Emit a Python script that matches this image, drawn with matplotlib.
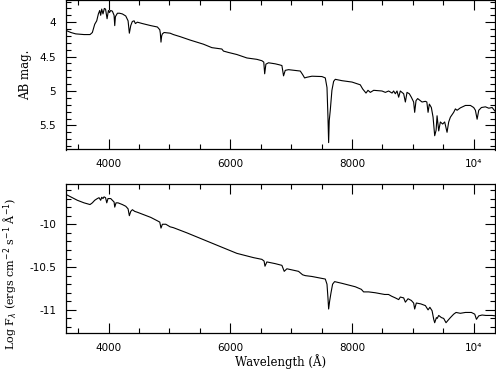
import numpy as np
import matplotlib
matplotlib.use("Agg")
import matplotlib.pyplot as plt
from matplotlib.ticker import MultipleLocator, FuncFormatter

# AB magnitude spectrum (top panel)
wave_ab = [3300, 3380, 3460, 3596, 3695, 3733, 3772, 3805, 3832, 3854,
           3870, 3887, 3908, 3930, 3950, 3975, 3997, 4015, 4035, 4062,
           4090, 4101, 4112, 4145, 4180, 4226, 4282, 4320, 4341, 4364,
           4390, 4419, 4440, 4473, 4555, 4693, 4802, 4841, 4850, 4861,
           4872, 4884, 4912, 5011, 5065, 5175, 5340, 5559, 5697, 5861,
           5888, 5970, 6108, 6273, 6437, 6519, 6550, 6565, 6585, 6628,
           6738, 6809, 6848, 6875, 6903, 6957, 7150, 7188, 7221, 7260,
           7342, 7506, 7561, 7589, 7605, 7616, 7626, 7643, 7670, 7698,
           7725, 7835, 8000, 8136, 8175, 8230, 8263, 8301, 8356, 8493,
           8548, 8602, 8658, 8684, 8712, 8740, 8767, 8794, 8849, 8877,
           8904, 8942, 8975, 9013, 9030, 9052, 9079, 9151, 9206, 9230,
           9250, 9271, 9304, 9332, 9359, 9382, 9398, 9425, 9452, 9490,
           9523, 9562, 9589, 9617, 9671, 9699, 9727, 9781, 9864, 9946,
           10000, 10028, 10056, 10083, 10127, 10193, 10248, 10303, 10357]
ab_mag = [4.12, 4.15, 4.17, 4.18, 4.18, 4.15, 4.03, 3.98, 3.88, 3.83,
          3.90, 3.81, 3.88, 3.80, 3.81, 3.95, 3.83, 3.86, 3.83, 3.84,
          3.90, 4.05, 3.92, 3.87, 3.87, 3.88, 3.91, 3.98, 4.16, 4.05,
          3.99, 3.98, 4.02, 4.00, 4.02, 4.05, 4.07, 4.11, 4.16, 4.29,
          4.20, 4.17, 4.15, 4.16, 4.18, 4.21, 4.26, 4.32, 4.37, 4.39,
          4.42, 4.44, 4.47, 4.52, 4.54, 4.56, 4.58, 4.75, 4.61, 4.59,
          4.605, 4.62, 4.63, 4.78, 4.70, 4.69, 4.71, 4.76, 4.81, 4.80,
          4.785, 4.79, 4.81, 4.95, 5.38, 5.75, 5.43, 5.28, 4.99, 4.86,
          4.83, 4.85, 4.87, 4.91, 4.97, 5.03, 4.99, 5.02, 4.99, 5.00,
          5.02, 5.00, 5.03, 5.00, 5.04, 5.00, 5.09, 5.00, 5.04, 5.16,
          5.02, 5.04, 5.09, 5.16, 5.31, 5.14, 5.11, 5.16, 5.15, 5.16,
          5.31, 5.19, 5.24, 5.38, 5.65, 5.57, 5.36, 5.58, 5.45, 5.48,
          5.45, 5.60, 5.45, 5.38, 5.31, 5.26, 5.28, 5.245, 5.21, 5.21,
          5.24, 5.28, 5.41, 5.28, 5.24, 5.23, 5.25, 5.24, 5.30]

# log F_lambda spectrum (bottom panel)
wave_fl = [3295, 3377, 3486, 3596, 3695, 3733, 3772, 3815, 3843, 3870,
           3887, 3908, 3925, 3950, 3970, 3990, 4035, 4062, 4090, 4101,
           4122, 4155, 4226, 4282, 4320, 4341, 4364, 4391, 4430, 4473,
           4583, 4693, 4802, 4841, 4861, 4884, 4940, 5011, 5065, 5285,
           5559, 5833, 6108, 6382, 6519, 6555, 6570, 6601, 6738, 6848,
           6886, 6930, 7121, 7188, 7232, 7342, 7561, 7589, 7605, 7616,
           7632, 7655, 7681, 7714, 7835, 8054, 8153, 8191, 8273, 8383,
           8536, 8600, 8650, 8712, 8767, 8794, 8849, 8877, 8921, 8975,
           9013, 9030, 9057, 9130, 9206, 9250, 9280, 9316, 9343, 9359,
           9387, 9400, 9425, 9469, 9507, 9545, 9580, 9617, 9671, 9710,
           9780, 9864, 9962, 10017, 10045, 10083, 10138, 10200, 10303, 10357]
log_fl = [-9.65, -9.68, -9.72, -9.75, -9.77, -9.75, -9.72, -9.70, -9.69, -9.72,
          -9.685, -9.70, -9.68, -9.69, -9.75, -9.70, -9.70, -9.72, -9.74, -9.80,
          -9.75, -9.75, -9.77, -9.79, -9.82, -9.90, -9.85, -9.83, -9.85, -9.86,
          -9.89, -9.92, -9.96, -9.975, -10.045, -10.00, -10.00, -10.03, -10.04, -10.10,
          -10.18, -10.26, -10.34, -10.39, -10.41, -10.43, -10.49, -10.44, -10.46, -10.48,
          -10.55, -10.52, -10.55, -10.59, -10.60, -10.61, -10.64, -10.70, -10.86, -10.99,
          -10.90, -10.80, -10.70, -10.67, -10.69, -10.73, -10.76, -10.79, -10.79, -10.80,
          -10.82, -10.82, -10.84, -10.86, -10.88, -10.85, -10.86, -10.91, -10.87, -10.89,
          -10.92, -10.99, -10.92, -10.93, -10.95, -11.00, -10.97, -11.01, -11.11, -11.15,
          -11.09, -11.10, -11.065, -11.09, -11.10, -11.15, -11.12, -11.09, -11.05, -11.03,
          -11.04, -11.03, -11.03, -11.05, -11.11, -11.07, -11.06, -11.065, -11.065, -11.07]

x_ticks = [4000, 6000, 8000, 10000]
x_ticklabels = ["4000", "6000", "8000", "10\u2074"]

W, H = 496, 374
fig = plt.figure(figsize=(W / 100, H / 100), dpi=100)
ax1 = fig.add_axes([66 / W, 1 - 149.5 / H, 429 / W, 149 / H])
ax2 = fig.add_axes([66 / W, 1 - 333 / H, 429 / W, 149 / H])

label_font = dict(family="DejaVu Serif", fontsize=8.5)


def style(ax, minor_y):
    ax.set_xlim(3300, 10350)
    ax.set_xticks(x_ticks)
    ax.set_xticklabels(x_ticklabels)
    ax.xaxis.set_minor_locator(MultipleLocator(500))
    ax.yaxis.set_minor_locator(MultipleLocator(minor_y))
    ax.tick_params(which="both", direction="in", top=True, right=True,
                   width=0.8, labelsize=7.5)
    ax.tick_params(which="major", length=7, pad=7)
    ax.tick_params(which="minor", length=3.5)
    for s in ax.spines.values():
        s.set_linewidth(0.9)


ax1.plot(wave_ab, ab_mag, color="black", lw=0.8)
ax1.set_ylim(5.85, 3.685)
ax1.set_yticks([4, 4.5, 5, 5.5])
ax1.yaxis.set_major_formatter(FuncFormatter(lambda v, p: f"{v:g}"))
style(ax1, 0.1)
ax1.set_ylabel("AB mag.", **label_font)
ax1.yaxis.set_label_coords(-0.08, 0.5)

ax2.plot(wave_fl, log_fl, color="black", lw=0.8)
ax2.set_ylim(-11.27, -9.53)
ax2.set_yticks([-10, -10.5, -11])
ax2.yaxis.set_major_formatter(FuncFormatter(lambda v, p: f"{v:g}"))
style(ax2, 0.1)
ax2.set_ylabel(r"Log F$_\lambda$ (ergs cm$^{-2}$ s$^{-1}$ Å$^{-1}$)",
               family="DejaVu Serif", fontsize=8)
ax2.yaxis.set_label_coords(-0.11, 0.40)
ax2.set_xlabel("Wavelength (Å)", **label_font)
ax2.xaxis.set_label_coords(0.5, -0.145)

fig.savefig("out.png", dpi=100)
